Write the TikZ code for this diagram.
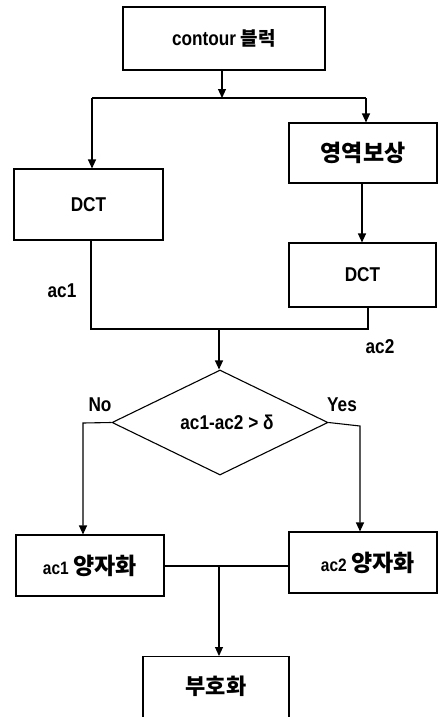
\documentclass[tikz,border=0pt]{standalone}
\usepackage{fontspec}
\setmainfont{Liberation Sans}[FakeStretch=0.86]
\newfontfamily\kr{Noto Sans CJK KR}
\usetikzlibrary{shapes.geometric,arrows.meta}
\newcommand{\kor}[1]{{\kr\fontsize{23}{26}\selectfont #1}}
\begin{document}
\begin{tikzpicture}[x=1pt,y=-1pt,
  box/.style={draw,line width=1.1pt,rectangle,inner sep=0pt,font=\bfseries\fontsize{20}{24}\selectfont},
  arr/.style={line width=1.1pt,-{Triangle[length=9pt,width=8pt]}},
  ln/.style={line width=1.1pt},
  lab/.style={font=\bfseries\fontsize{20}{24}\selectfont,inner sep=0pt}]
\useasboundingbox (0,0) rectangle (440,717);
\node[box,minimum width=202pt,minimum height=63pt] (top) at (224,38.5) {contour {\kr\fontsize{19}{22}\selectfont 블럭}};
\node[box,minimum width=149pt,minimum height=71pt] (dct1) at (88.5,204.5) {DCT};
\node[box,minimum width=148pt,minimum height=60pt] (ycb) at (363,153) {\kor{영역보상}};
\node[box,minimum width=147pt,minimum height=64pt] (dct2) at (362.5,275) {DCT};
\node[draw,line width=1.1pt,diamond,aspect=2.06,minimum width=216pt,minimum height=105pt,inner sep=0pt,font=\bfseries\fontsize{20}{24}\selectfont] (dia) at (220,422.5) {\hspace{14pt}ac1-ac2 > δ};
\node[box,minimum width=148pt,minimum height=61pt] (q1) at (90,565.5) {{\fontsize{18}{22}\selectfont ac1} \kor{양자화}};
\node[box,minimum width=148pt,minimum height=61pt] (q2) at (363,562.5) {\hspace{10pt}{\fontsize{18}{22}\selectfont ac2} \kor{양자화}};
\node[box,minimum width=146pt,minimum height=84pt,anchor=north] (enc) at (216,656) {};
\node[font=\kr\bfseries\fontsize{22}{26}\selectfont] (enct) at (216,686) {부호화};
\node[lab] (ac1) at (62,291) {ac1};
\node[lab] (ac2) at (380,347) {ac2};
\node[lab] (no) at (100,405) {No};
\node[lab] (yes) at (342,405) {Yes};
% connectors
\coordinate (j1) at (222,98);
\coordinate (jl) at (92,98);
\coordinate (jr) at (366,98);
\draw[arr] (top.south -| j1) -- (j1);
\draw[ln] (jl) -- (jr);
\draw[arr] (jl) -- (jl |- dct1.north);
\draw[arr] (jr) -- (jr |- ycb.north);
\draw[arr] (ycb.south -| 362,0) -- (dct2.north -| 362,0);
\coordinate (m1) at (91,329);
\coordinate (m2) at (368,329);
\coordinate (m3) at (219,329);
\draw[ln] (dct1.south -| m1) -- (m1) -- (m2) -- (dct2.south -| m2);
\draw[arr] (m3) -- (dia.north -| m3);
\coordinate (nl) at (83,423);
\coordinate (yr) at (360,426);
\draw[arr] (dia.west) -- (nl) -- (nl |- q1.north);
\draw[arr] (dia.east) -- (yr) -- (yr |- q2.north);
\coordinate (b1) at (219,566);
\draw[ln] (q1.east |- b1) -- (q2.west |- b1);
\draw[arr] (b1) -- (b1 |- enc.north);
\end{tikzpicture}
\end{document}
